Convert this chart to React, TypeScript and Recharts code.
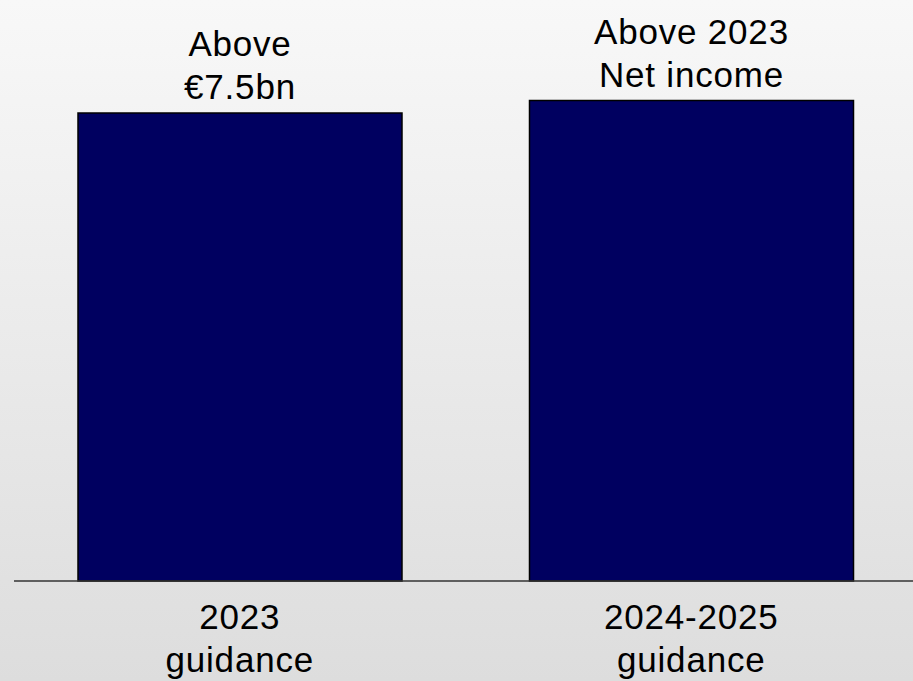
import React from "react";
import { BarChart, Bar, XAxis, YAxis, LabelList } from "recharts";

const categories = ["2023 guidance", "2024-2025 guidance"];
const values = [7.5, 7.7];
const tickLines = [
  ["2023", "guidance"],
  ["2024-2025", "guidance"],
];
const barLabelLines = [
  ["Above", "€7.5bn"],
  ["Above 2023", "Net income"],
];

const data = categories.map((c, i) => ({ name: c, value: values[i], idx: i }));

const FONT = "'Liberation Sans', Arial, Helvetica, sans-serif";
const FS = 35;
const LINE = 43;

const CategoryTick = (props: any) => {
  const { x, y, index } = props;
  const lines = tickLines[index] || [];
  return (
    <g>
      {lines.map((l, i) => (
        <text
          key={i}
          x={x}
          y={y + 48 + i * LINE}
          textAnchor="middle"
          fontFamily={FONT}
          fontSize={FS}
          letterSpacing={0.8}
          fill="#000"
        >
          {l}
        </text>
      ))}
    </g>
  );
};

const TopLabel = (props: any) => {
  const { x, y, width, index } = props;
  const lines = barLabelLines[index] || [];
  const cx = x + width / 2;
  const n = lines.length;
  return (
    <g>
      {lines.map((l, i) => (
        <text
          key={i}
          x={cx}
          y={y - 14 - (n - 1 - i) * LINE}
          textAnchor="middle"
          fontFamily={FONT}
          fontSize={FS}
          letterSpacing={0.8}
          fill="#000"
        >
          {l}
        </text>
      ))}
    </g>
  );
};

export default function App() {
  return (
    <div
      style={{
        position: "fixed",
        top: 0,
        left: 0,
        width: 913,
        height: 681,
        overflow: "hidden",
        background: "linear-gradient(to bottom, #f8f8f8 0%, #dddddd 100%)",
      }}
    >
      <BarChart
        width={920}
        height={681}
        data={data}
        margin={{ top: 50.6, right: 3, bottom: 0, left: 14 }}
        barSize={324}
      >
        <XAxis
          dataKey="name"
          axisLine={{ stroke: "#333", strokeWidth: 1.5 }}
          tickLine={false}
          tickSize={0}
          tickMargin={0}
          tick={<CategoryTick />}
          interval={0}
          height={100}
        />
        <YAxis hide domain={[0, 8.5]} />
        <Bar
          dataKey="value"
          fill="#000060"
          stroke="#000"
          strokeWidth={1.5}
          isAnimationActive={false}
        >
          <LabelList dataKey="value" content={<TopLabel />} />
        </Bar>
      </BarChart>
    </div>
  );
}
